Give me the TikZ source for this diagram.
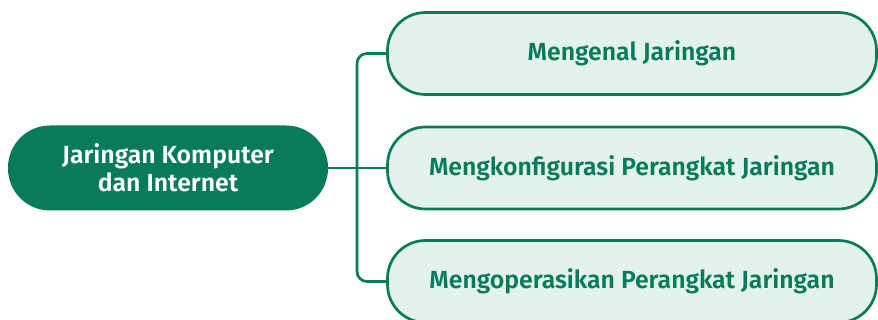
\documentclass[tikz,border=0pt]{standalone}
\usepackage{fontspec}
\setmainfont{Fira Sans}[BoldFont={Fira Sans SemiBold}]
\definecolor{darkgreen}{HTML}{087B5A}
\definecolor{palegreen}{HTML}{E3F2EA}

\begin{document}
\begin{tikzpicture}[%
    x = 1pt, y = -1pt,
    root/.style = {rectangle, rounded corners = 42pt, fill = darkgreen, text = white, minimum width = 320pt, minimum height = 85pt, align = center, inner sep = 0pt, font = \fontsize{24.8}{28}\selectfont\bfseries},
    topic/.style = {rectangle, rounded corners = 38pt, draw = darkgreen, line width = 2.7pt, fill = palegreen, text = darkgreen, minimum width = 489pt, minimum height = 82pt, align = center, inner sep = 0pt, font = \fontsize{24.8}{28}\selectfont\bfseries},
    link/.style = {draw = darkgreen, line width = 2.7pt, rounded corners = 10pt}]

    \useasboundingbox (0, 0) rectangle (878, 320);

    \node[root] (jarkom) at (168, 168) {Jaringan Komputer\\dan Internet};
    \node[topic] (mengenal) at (632, 53.5) {Mengenal Jaringan};
    \node[topic] (konfigurasi) at (632, 168) {Mengkonfigurasi Perangkat Jaringan};
    \node[topic] (operasi) at (632, 281.5) {Mengoperasikan Perangkat Jaringan};
    \coordinate (spine) at (357, 168);

    \draw[link] (jarkom.east) -- (konfigurasi.west);
    \draw[link] (mengenal.west) -| (spine) |- (operasi.west);
\end{tikzpicture}
\end{document}
